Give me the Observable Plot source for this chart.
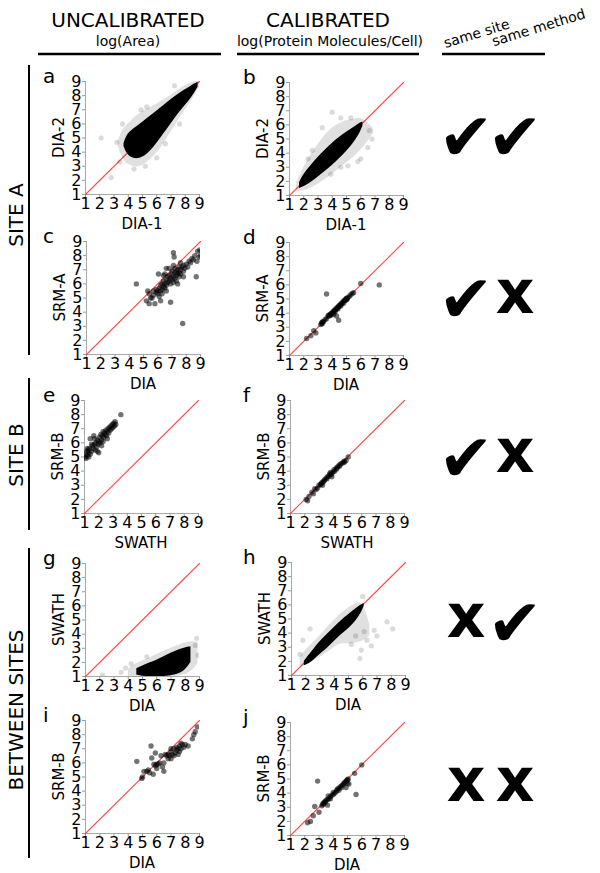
<!DOCTYPE html>
<html><head><meta charset="utf-8">
<script src="https://cdn.jsdelivr.net/npm/d3@7"></script>
<script src="https://cdn.jsdelivr.net/npm/@observablehq/plot@0.6"></script>
<style>
body{margin:0;background:#fff;}
#fig{position:relative;width:600px;height:873px;font-family:"DejaVu Sans",sans-serif;overflow:hidden;background:#fff;}
#fig svg{position:absolute;}
</style></head><body><div id="fig"></div>
<script>
// ---------- data ----------
const ticks = [1, 2, 3, 4, 5, 6, 7, 8, 9];
const diagonal = [1, 9];

// panel a : dense cloud (DIA-1 vs DIA-2, uncalibrated)
const aCoreX = [3.7, 3.9, 4.2, 4.6, 5.0, 5.5, 6.0, 6.5, 7.0, 7.5, 8.0, 8.5, 8.9];
const aCoreLo = [4.4, 3.9, 3.6, 3.5, 3.6, 4.0, 4.6, 5.3, 6.0, 6.7, 7.3, 7.9, 8.6];
const aCoreHi = [4.6, 5.2, 5.5, 5.8, 6.1, 6.5, 6.9, 7.3, 7.7, 8.1, 8.4, 8.75, 8.95];
const aHaloX = [3.3, 3.6, 4.0, 4.5, 5.0, 5.5, 6.0, 6.5, 7.0, 7.5, 8.0, 8.5, 9.0];
const aHaloLo = [4.4, 3.5, 3.1, 2.9, 3.0, 3.4, 3.9, 4.6, 5.4, 6.2, 7.0, 7.7, 8.6];
const aHaloHi = [4.8, 5.6, 6.0, 6.5, 6.9, 7.1, 7.4, 7.7, 8.0, 8.4, 8.7, 8.95, 9.0];
const aStray = [[2.1,5.0],[2.8,2.2],[7.25,8.7],[3.2,4.7],[3.4,3.3],[4.9,7.0],[5.3,7.2],[6.0,3.6],[5.2,3.0],[4.4,2.8],[3.6,6.0],[6.6,4.6],[7.6,6.0]];

// panel b : dense cloud (calibrated)
const bCoreX = [1.7, 2.0, 2.5, 3.0, 3.5, 4.0, 4.5, 5.0, 5.5, 5.9, 6.15];
const bCoreLo = [1.5, 1.6, 1.9, 2.3, 2.7, 3.1, 3.6, 4.1, 4.7, 5.3, 5.9];
const bCoreHi = [1.9, 2.5, 3.1, 3.7, 4.2, 4.7, 5.1, 5.5, 5.8, 6.1, 6.2];
const bHaloX = [1.5, 2.0, 2.5, 3.0, 3.5, 4.0, 4.5, 5.0, 5.5, 6.0, 6.5, 6.9];
const bHaloLo = [1.3, 1.3, 1.5, 1.8, 2.1, 2.5, 2.9, 3.3, 3.7, 4.2, 4.8, 5.4];
const bHaloHi = [1.9, 3.0, 3.9, 4.6, 5.3, 5.8, 6.1, 6.3, 6.4, 6.5, 6.2, 5.7];
const bStray = [[4.0,6.9],[3.3,5.8],[4.6,6.5],[5.3,6.5],[5.8,3.4],[6.0,3.6],[6.5,4.4],[6.8,5.0],[2.3,3.6],[2.6,4.2],[3.9,2.5],[4.6,3.0],[5.1,3.1],[6.6,5.6]];

// panel c : SRM-A vs DIA (uncalibrated)
const panelC = [[4.5,6.0],[5.3,5.5],[5.4,4.6],[5.8,4.6],[5.7,5.2],[6.05,6.7],[6.5,6.7],[6.6,7.1],[6.9,4.7],[7.1,8.2],[7.15,7.9],[7.75,3.2],[8.7,6.5],[8.95,8.4],[8.75,7.6],[9.0,8.0],[6.2,4.8],[5.6,5.0],[5.9,5.6],
[5.9,5.4],[6.0,5.5],[6.0,5.3],[6.1,5.7],[6.2,5.5],[6.2,5.9],[6.3,5.6],[6.3,6.0],[6.4,5.8],[6.4,6.2],[6.5,6.0],[6.5,5.7],[6.6,6.3],[6.6,5.9],[6.7,6.1],[6.7,6.5],[6.8,6.2],[6.8,6.6],[6.9,6.4],[6.9,6.0],[7.0,6.7],[7.0,6.3],[7.0,6.9],[7.1,6.5],[7.1,6.1],[7.2,6.8],[7.2,6.4],[7.2,7.1],[7.3,6.6],[7.3,6.9],[7.3,6.2],[7.4,7.0],[7.4,6.7],[7.5,6.8],[7.5,7.2],[7.5,6.5],[7.6,7.0],[7.6,6.7],[7.7,7.2],[7.8,6.9],[7.8,7.3],[7.9,7.1],[8.0,7.4],[8.1,7.2],[8.2,7.6],[8.3,7.5],[8.4,7.8],[8.5,7.7],[8.6,8.0],[8.8,8.3],[8.9,7.9],[6.1,5.1],[6.3,5.3],[5.7,5.5],[5.5,5.0],[5.4,5.3],[5.2,4.8],[6.6,5.5],[7.4,6.0],[7.8,6.5],[6.8,7.1],[7.1,7.3],[6.4,6.6],[7.6,7.5]];

// panel d : SRM-A vs DIA (calibrated)
const panelD = [[3.6,5.35],[4.3,3.8],[4.45,3.5],[6.0,6.1],[7.3,6.0],[2.85,2.6],[2.2,2.2],[2.5,2.4],[2.7,2.75],[4.8,4.7],
[3.2,3.2],[3.25,3.3],[3.3,3.25],[3.35,3.4],[3.3,3.35],[3.4,3.4],[3.7,3.8],[3.75,3.85],[3.8,3.8],[3.85,3.9],[3.9,3.95],[3.95,4.0],[4.0,4.0],[4.05,4.1],[4.1,4.1],[4.15,4.2],[4.2,4.2],[4.25,4.3],[4.3,4.3],[4.35,4.4],[4.4,4.4],[4.45,4.5],[4.5,4.5],[4.55,4.6],[4.6,4.6],[4.65,4.7],[4.7,4.7],[4.75,4.8],[4.8,4.85],[4.85,4.9],[4.9,4.9],[4.95,5.0],[5.0,5.05],[5.05,5.0],[5.1,5.1],[5.2,5.2],[5.3,5.3],[5.4,5.4],[5.5,5.45],[3.5,3.55],[3.6,3.6],[4.2,4.1],[4.4,4.3],[4.6,4.5],[5.0,4.95],[4.1,3.9],[3.9,3.85]];

// panel e : SRM-B vs SWATH (uncalibrated)
const panelE = [[1.05,5.0],[1.1,5.2],[1.1,4.9],[1.15,5.4],[1.2,5.1],[1.25,5.5],[1.3,5.3],[1.35,5.6],[1.4,6.3],[1.4,5.2],[1.5,5.4],[1.55,5.8],[1.6,5.6],[1.65,6.5],[1.7,5.9],[1.75,5.5],[1.8,6.0],[1.85,5.7],[1.9,6.2],[1.95,5.9],[2.0,6.1],[2.0,5.3],[2.05,6.4],[2.1,6.0],[2.15,6.6],[2.2,6.2],[2.25,6.5],[2.3,6.8],[2.35,6.4],[2.4,6.7],[2.45,6.6],[2.5,6.9],[2.55,6.5],[2.6,6.8],[2.65,7.0],[2.7,6.7],[2.75,7.1],[2.8,6.9],[2.85,7.2],[2.9,7.0],[2.95,7.3],[3.0,7.1],[3.05,7.4],[3.1,7.2],[3.15,7.5],[3.2,7.3],[3.55,8.0],[1.3,5.0],[1.5,5.9],[1.9,5.4],[2.3,6.1],[1.2,5.6],[1.7,6.3],[2.6,6.3],[2.2,5.8]];

// panel f : SRM-B vs SWATH (calibrated)
const panelF = [[2.1,2.0],[2.2,1.9],[2.3,2.2],[2.5,2.5],[2.6,2.4],[2.8,2.7],[2.9,2.8],[3.0,3.0],[3.1,3.05],[3.15,3.1],[3.2,3.2],[3.3,3.25],[3.35,3.3],[3.4,3.4],[3.5,3.5],[3.55,3.45],[3.6,3.6],[3.7,3.65],[3.75,3.8],[3.8,3.9],[3.85,3.75],[3.9,3.85],[4.0,3.95],[4.05,4.1],[4.1,4.0],[4.2,4.2],[4.25,4.15],[4.3,4.3],[4.4,4.4],[4.45,4.35],[4.5,4.5],[4.6,4.55],[4.7,4.6],[4.75,4.7],[4.8,4.65],[4.9,4.75],[5.05,5.0],[3.9,3.6],[3.25,3.0],[2.7,2.75]];

// panel g : dense cloud SWATH vs DIA (uncalibrated)
const gCoreX = [4.6, 5.0, 5.5, 6.0, 6.5, 7.0, 7.5, 8.0, 8.4];
const gCoreLo = [1.1, 1.0, 1.0, 1.0, 1.0, 1.05, 1.15, 1.4, 2.0];
const gCoreHi = [1.55, 1.75, 1.95, 2.15, 2.4, 2.65, 2.85, 3.05, 3.1];
const gHaloX = [4.0, 4.5, 5.0, 5.5, 6.0, 6.5, 7.0, 7.5, 8.0, 8.5, 8.9];
const gHaloLo = [1.0, 1.0, 1.0, 1.0, 1.0, 1.0, 1.0, 1.0, 1.1, 1.4, 1.9];
const gHaloHi = [1.5, 1.9, 2.1, 2.3, 2.55, 2.8, 3.0, 3.2, 3.4, 3.5, 3.4];
const gStray = [[3.8,1.6],[4.2,1.9],[8.8,3.7],[8.9,2.5],[2.2,1.1],[3.5,1.3],[8.7,3.2],[5.3,2.4]];

// panel h : dense cloud SWATH vs DIA (calibrated)
const hCoreX = [1.9, 2.2, 2.6, 3.0, 3.5, 4.0, 4.5, 5.0, 5.5, 5.9, 6.1];
const hCoreLo = [1.7, 1.8, 2.1, 2.5, 2.9, 3.4, 3.9, 4.3, 4.8, 5.4, 5.9];
const hCoreHi = [2.0, 2.4, 2.9, 3.4, 3.9, 4.4, 4.9, 5.3, 5.7, 6.0, 6.1];
const hHaloX = [1.6, 2.0, 2.5, 3.0, 3.5, 4.0, 4.5, 5.0, 5.5, 6.0, 6.5];
const hHaloLo = [1.6, 1.7, 2.0, 2.3, 2.6, 3.0, 3.3, 3.2, 3.3, 3.4, 3.8];
const hHaloHi = [2.3, 2.8, 3.3, 3.8, 4.4, 4.9, 5.4, 5.8, 6.1, 6.3, 4.6];
const hStray = [[6.1,4.1],[6.8,4.2],[7.7,4.8],[8.1,4.3],[6.6,3.1],[5.8,2.2],[5.5,3.8],[6.3,3.5],[5.9,2.8],[5.2,3.2],[7.0,3.8],[1.6,2.5],[1.8,3.5],[2.3,4.3],[6.0,6.6]];

// panel i : SRM-B vs DIA (uncalibrated)
const panelI = [[4.6,6.1],[4.95,4.9],[5.1,5.4],[5.0,5.0],[5.3,5.4],[5.5,5.3],[5.6,7.2],[5.65,6.35],[5.75,5.2],[5.8,5.9],[5.9,6.7],[5.9,5.8],[6.0,5.6],[6.0,5.9],[6.1,5.9],[6.2,6.0],[6.4,5.7],[6.5,5.4],[6.5,6.0],[6.6,6.6],[6.7,6.5],[6.8,6.6],[6.9,6.5],[7.0,6.3],[7.0,6.8],[7.1,6.6],[7.2,6.5],[7.3,6.7],[7.4,6.9],[7.4,7.1],[7.5,7.0],[7.5,6.6],[7.6,7.2],[7.7,7.4],[7.7,7.0],[7.8,7.3],[7.9,7.1],[8.0,7.3],[8.2,7.2],[8.5,7.7],[8.6,8.0],[8.7,8.2],[8.85,8.55],[6.3,6.5],[5.4,5.5],[7.2,7.0],[6.8,6.3],[7.6,6.8],[7.0,7.0]];

// panel j : SRM-B vs DIA (calibrated)
const panelJ = [[2.9,4.85],[5.6,3.9],[6.0,6.0],[5.5,5.4],[2.4,2.0],[2.2,1.9],[2.7,3.05],[2.6,2.4],[3.0,2.65],[3.6,3.15],[3.65,3.8],[4.9,4.4],[5.1,4.65],
[3.2,3.1],[3.25,3.2],[3.3,3.3],[3.35,3.25],[3.4,3.4],[3.45,3.35],[3.5,3.5],[3.6,3.55],[3.7,3.6],[3.8,3.75],[3.9,3.85],[4.0,3.9],[4.1,4.0],[4.2,4.1],[4.25,4.2],[4.3,4.3],[4.4,4.35],[4.5,4.45],[4.6,4.55],[4.7,4.6],[4.75,4.7],[4.8,4.75],[4.9,4.85],[4.95,4.9],[5.0,4.95],[5.05,5.0],[4.4,4.2],[4.6,4.4],[3.8,3.6],[4.0,4.05],[5.0,4.7]];

// labels
const panelLetters = ["a","b","c","d","e","f","g","h","i","j"];
const yTitles = ["DIA-2","DIA-2","SRM-A","SRM-A","SRM-B","SRM-B","SWATH","SWATH","SRM-B","SRM-B"];
const xTitles = ["DIA-1","DIA-1","DIA","DIA","SWATH","SWATH","DIA","DIA","DIA","DIA"];
const rowLabels = ["SITE A","SITE B","BETWEEN SITES"];
const sameSite = ["yes","yes","yes","no","no"];
const sameMethod = ["yes","no","no","yes","no"];

// ---------- layout ----------
const PW = 114, PH = 113, ML = 30, MR = 10, MT = 10, MB = 24;
const panelPos = [[85,81],[289,82],[86,241],[289,242],[84,400],[290,400],[85,563],[291,562],[85,720],[290,722]];

const fig = document.getElementById("fig");
const band = (xs, lo, hi) => xs.map((x, i) => ({x, lo: lo[i], hi: hi[i]}));
const pts = arr => arr.map(([x, y]) => ({x, y}));

function makePanel(k, spec) {
  const marks = [
    Plot.ruleY([1], {stroke: "#a8a8a8"}),
    Plot.ruleX([1], {stroke: "#a8a8a8"}),
    Plot.axisX({ticks, tickSize: 3, tickPadding: 0, fontSize: 16, stroke: "#999", fill: "black", label: null, tickFormat: d => d}),
    Plot.axisY({ticks, tickSize: 3, tickPadding: 1, fontSize: 16, stroke: "#999", fill: "black", label: null, tickFormat: d => d}),
    Plot.line(diagonal.map(v => ({x: v, y: v})), {x: "x", y: "y", stroke: "#ff3a3a", strokeWidth: 1.1, strokeOpacity: 0.9})
  ];
  if (spec.halo) marks.push(Plot.areaY(spec.halo, {x: "x", y1: "lo", y2: "hi", fill: "black", fillOpacity: 0.12, curve: "basis", clip: true}));
  if (spec.stray) marks.push(Plot.dot(spec.stray, {x: "x", y: "y", r: 2.6, fill: "black", fillOpacity: 0.14, clip: true}));
  if (spec.core) marks.push(Plot.areaY(spec.core, {x: "x", y1: "lo", y2: "hi", fill: "black", curve: "basis", clip: true}));
  if (spec.points) marks.push(Plot.dot(spec.points, {x: "x", y: "y", r: 2.7, fill: "black", fillOpacity: 0.55, clip: true}));
  const svg = Plot.plot({
    width: PW + ML + MR, height: PH + MT + MB,
    marginLeft: ML, marginRight: MR, marginTop: MT, marginBottom: MB,
    style: {fontFamily: "DejaVu Sans", background: "transparent", overflow: "visible", color: "black"},
    x: {domain: [1, 9]},
    y: {domain: [1, 9]},
    marks
  });
  svg.style.left = (panelPos[k][0] - ML) + "px";
  svg.style.top = (panelPos[k][1] - MT) + "px";
  fig.appendChild(svg);
}

const specs = [
  {core: band(aCoreX, aCoreLo, aCoreHi), halo: band(aHaloX, aHaloLo, aHaloHi), stray: pts(aStray)},
  {core: band(bCoreX, bCoreLo, bCoreHi), halo: band(bHaloX, bHaloLo, bHaloHi), stray: pts(bStray)},
  {points: pts(panelC)},
  {points: pts(panelD)},
  {points: pts(panelE)},
  {points: pts(panelF)},
  {core: band(gCoreX, gCoreLo, gCoreHi), halo: band(gHaloX, gHaloLo, gHaloHi), stray: pts(gStray)},
  {core: band(hCoreX, hCoreLo, hCoreHi), halo: band(hHaloX, hHaloLo, hHaloHi), stray: pts(hStray)},
  {points: pts(panelI)},
  {points: pts(panelJ)}
];
specs.forEach((s, k) => makePanel(k, s));

// ---------- annotation overlay ----------
const ov = d3.create("svg").attr("width", 600).attr("height", 873)
  .style("left", "0px").style("top", "0px").style("pointer-events", "none")
  .attr("font-family", "DejaVu Sans");

// headers
ov.append("text").attr("x", 128).attr("y", 27).attr("text-anchor", "middle").attr("font-size", 20).text("UNCALIBRATED");
ov.append("text").attr("x", 128).attr("y", 46).attr("text-anchor", "middle").attr("font-size", 14).text("log(Area)");
ov.append("text").attr("x", 328).attr("y", 27).attr("text-anchor", "middle").attr("font-size", 20).text("CALIBRATED");
ov.append("text").attr("x", 330).attr("y", 46).attr("text-anchor", "middle").attr("font-size", 14).text("log(Protein Molecules/Cell)");
[[38,221],[237,419],[442,545]].forEach(([x1,x2]) =>
  ov.append("line").attr("x1", x1).attr("x2", x2).attr("y1", 54).attr("y2", 54).attr("stroke", "black").attr("stroke-width", 2.5));
ov.append("text").attr("transform", "translate(478,38) rotate(-17)").attr("text-anchor", "middle").attr("font-size", 14).text("same site");
ov.append("text").attr("transform", "translate(540,32) rotate(-17)").attr("text-anchor", "middle").attr("font-size", 14).text("same method");

// row group labels
const groups = [[215, 65, 355], [455, 378, 530], [710, 548, 858]];
groups.forEach(([cy, y1, y2], i) => {
  ov.append("text").attr("transform", `translate(23,${cy}) rotate(-90)`).attr("text-anchor", "middle").attr("font-size", 20).text(rowLabels[i]);
  ov.append("line").attr("x1", 29).attr("x2", 29).attr("y1", y1).attr("y2", y2).attr("stroke", "black").attr("stroke-width", 2);
});

// panel letters and axis titles
panelPos.forEach(([px, py], k) => {
  const left = k % 2 === 0;
  ov.append("text").attr("x", left ? 43 : 243).attr("y", py + 2).attr("font-size", 20).text(panelLetters[k]);
  ov.append("text").attr("transform", `translate(${px - 21},${py + PH / 2}) rotate(-90)`).attr("text-anchor", "middle").attr("font-size", 15).text(yTitles[k]);
  ov.append("text").attr("x", px + PW / 2).attr("y", py + PH + 35).attr("text-anchor", "middle").attr("font-size", 15).text(xTitles[k]);
});

// check / cross marks
const markRows = [135, 297, 456, 621, 785];
markRows.forEach((cy, r) => {
  [[466, sameSite[r]], [515, sameMethod[r]]].forEach(([cx, v]) => {
    if (v === "yes") {
      ov.append("text").attr("x", cx).attr("y", cy + 25).attr("text-anchor", "middle").attr("font-size", 66).text("\u2714");
    } else {
      ov.append("text").attr("x", cx).attr("y", cy + 16).attr("text-anchor", "middle").attr("font-size", 60).attr("font-weight", "bold").text("x");
    }
  });
});

fig.appendChild(ov.node());
</script></body></html>
